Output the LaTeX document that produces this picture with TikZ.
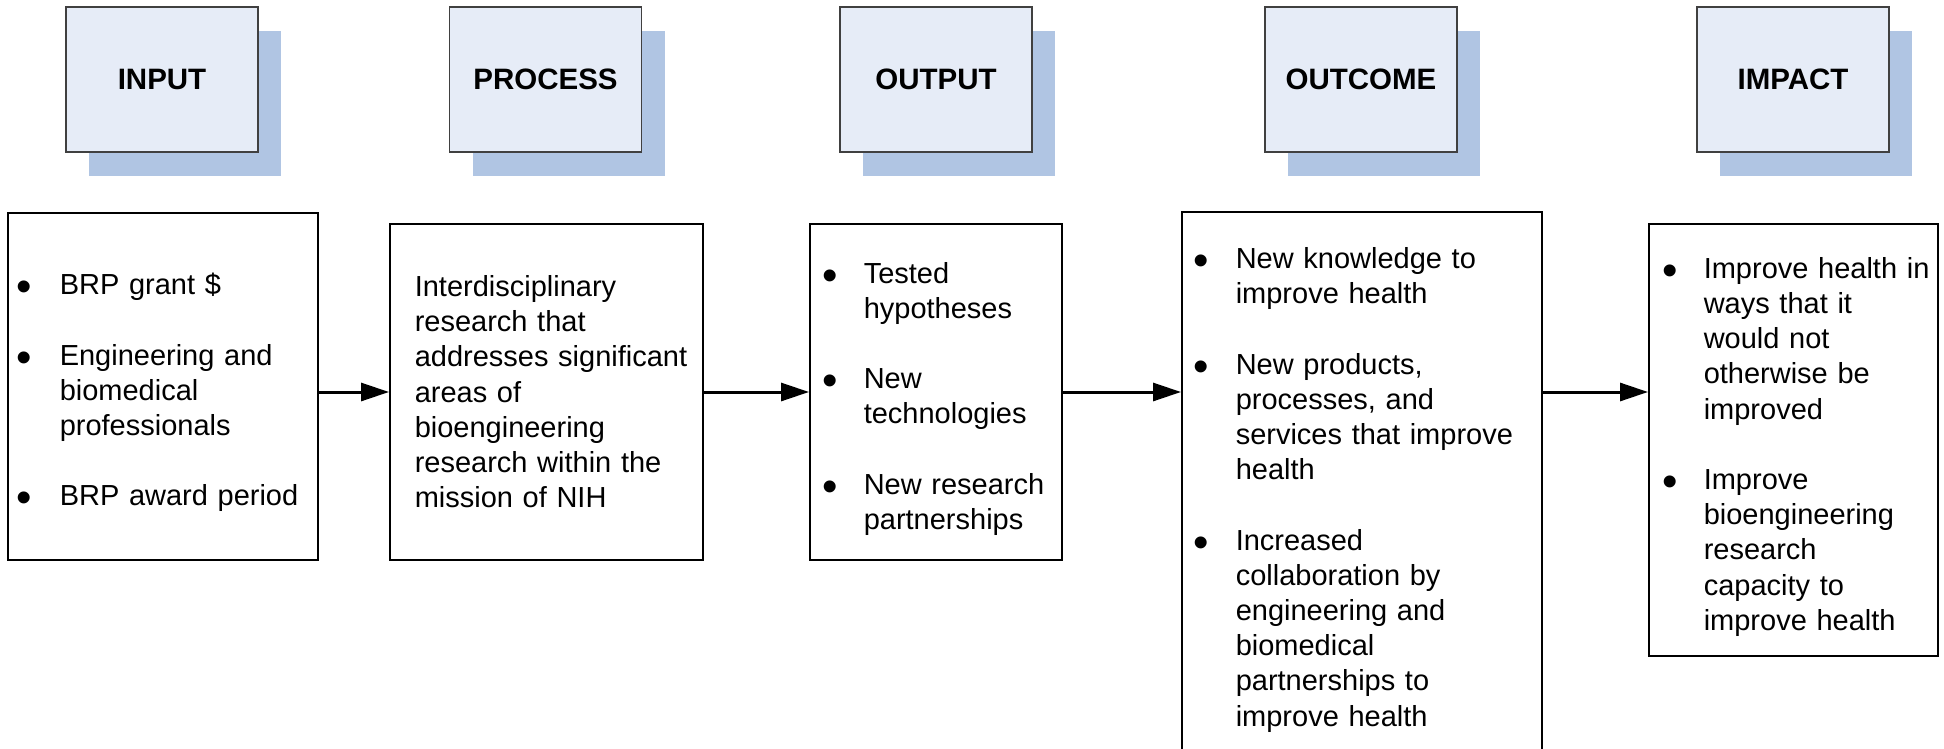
\documentclass[tikz,border=0pt]{standalone}
\usepackage{fontspec}
\setmainfont{Liberation Sans}
\usetikzlibrary{arrows.meta,shadows}
\definecolor{hdrfill}{HTML}{E6ECF7}
\definecolor{hdrshadow}{HTML}{B0C5E3}
\newcommand{\bigbul}{\raisebox{-7pt}{\fontsize{44}{20}\selectfont\textbullet}}
\newcommand{\bitem}[3]{\par\begingroup\let\\\newline\noindent\hangindent=#2\hangafter=1\relax\hspace*{#1}\makebox[\dimexpr#2-#1\relax][l]{\bigbul}#3\par\endgroup}
\newcommand{\itemgap}{\vspace{\baselineskip}}
\tikzset{
  body/.style={draw=black, line width=1.5pt, anchor=north west, inner sep=0pt,
    text width=#1, font=\fontsize{29}{35.2}\selectfont,
    execute at begin node={\raggedright\parskip=0pt\relax}},
  hdr/.style={draw=black!75, line width=1.5pt, fill=hdrfill, minimum width=192pt,
    minimum height=145pt, inner sep=0pt, font=\fontsize{29.5}{34}\selectfont\bfseries,
    drop shadow={shadow xshift=23pt, shadow yshift=-24pt, fill=hdrshadow, opacity=1, draw=none}},
  arr/.style={line width=3pt, -{Triangle[length=28pt,width=18pt]}}
}
\begin{document}
\begin{tikzpicture}[x=1pt,y=-1pt]
\useasboundingbox (0,0) rectangle (1944,749);
\clip (0,0) rectangle (1944,749);
% headers
\node[hdr] (hIn)  at (162,79.5)   {INPUT};
\node[hdr] (hPr)  at (545.5,79.5) {PROCESS};
\node[hdr] (hOut) at (936,79.5)   {OUTPUT};
\node[hdr] (hOc)  at (1361,79.5)  {OUTCOME};
\node[hdr] (hIm)  at (1793,79.5)  {IMPACT};
% bodies
\node[body=310pt, minimum height=347pt] (bIn) at (7,212) {%
  \bitem{9pt}{52pt}{BRP grant \$}\itemgap
  \bitem{9pt}{52pt}{Engineering and\\ biomedical\\ professionals}\itemgap
  \bitem{9pt}{52pt}{BRP award period}};
\node[body=313pt, minimum height=336pt] (bPr) at (389,223) {%
  \leftskip=25pt\noindent Interdisciplinary\\ research that\\ addresses significant\\ areas of\\ bioengineering\\ research within the\\ mission of NIH\par};
\node[body=252pt, minimum height=336pt] (bOut) at (809,223) {%
  \bitem{13pt}{54pt}{Tested\\ hypotheses}\itemgap
  \bitem{13pt}{54pt}{New\\ technologies}\itemgap
  \bitem{13pt}{54pt}{New research\\ partnerships}};
\node[body=360pt, minimum height=542pt] (bOc) at (1181,211) {%
  \bitem{12pt}{54pt}{New knowledge to\\ improve health}\itemgap
  \bitem{12pt}{54pt}{New products,\\ processes, and\\ services that improve\\ health}\itemgap
  \bitem{12pt}{54pt}{Increased\\ collaboration by\\ engineering and\\ biomedical\\ partnerships to\\ improve health}};
\node[body=289pt, minimum height=432pt] (bIm) at (1648,223) {%
  \bitem{14pt}{55pt}{Improve health in\\ ways that it\\ would not\\ otherwise be\\ improved}\itemgap
  \bitem{14pt}{55pt}{Improve\\ bioengineering\\ research\\ capacity to\\ improve health}};
% arrows
\coordinate (ay) at (0,392);
\draw[arr] (bIn.east |- ay) -- (bPr.west |- ay);
\draw[arr] (bPr.east |- ay) -- (bOut.west |- ay);
\draw[arr] (bOut.east |- ay) -- (bOc.west |- ay);
\draw[arr] (bOc.east |- ay) -- (bIm.west |- ay);
\end{tikzpicture}
\end{document}
